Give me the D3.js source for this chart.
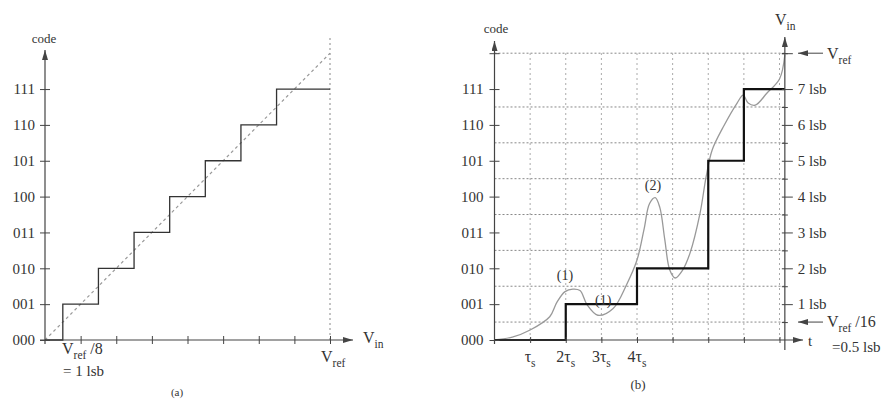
<!DOCTYPE html>
<html>
<head>
<meta charset="utf-8">
<script src="https://cdn.jsdelivr.net/npm/d3@7"></script>
<style>
body { margin: 0; background: #fff; }
svg text { font-family: "Liberation Serif", "DejaVu Serif", serif; fill: #333; font-size: 15px; }
</style>
</head>
<body>
<svg id="chart" width="889" height="401"></svg>
<script>
// ---- data ----
var codeLabels = ['000', '001', '010', '011', '100', '101', '110', '111'];
var codeLevels = [0, 1, 2, 3, 4, 5, 6, 7];
var lsbTicks = [1, 2, 3, 4, 5, 6, 7, 8];

// (a) ideal quantizer: input thresholds (lsb) and output code
var thresholdsA = [0, 0.5, 1.5, 2.5, 3.5, 4.5, 5.5, 6.5, 8];
var codesA = [0, 1, 2, 3, 4, 5, 6, 7, 7];
var idealA = [[0, 0], [8, 8]];

// (b) sampled input, time in tau_s, value in lsb
var sampleTimes = [0, 2, 4, 6, 7, 8.15];
var sampleCodes = [0, 1, 2, 5, 7, 7];
var inputCurve = [
	[0, 0], [0.5, 0.08], [1, 0.28], [1.55, 0.65], [1.75, 1.05], [1.98, 1.35], [2.2, 1.42],
	[2.4, 1.38], [2.6, 0.98], [2.9, 0.69], [3.33, 0.88], [3.71, 1.55], [4.0, 2.23],
	[4.2, 3.1], [4.35, 3.8], [4.51, 3.97], [4.64, 3.7], [4.78, 2.8], [4.92, 1.95],
	[5.07, 1.73], [5.28, 1.95], [5.49, 2.43], [5.77, 3.54], [5.94, 4.55], [6.11, 5.3],
	[6.42, 5.94], [6.81, 6.61], [6.98, 6.83], [7.12, 6.61], [7.32, 6.55], [7.65, 6.89],
	[8.0, 7.28], [8.15, 7.95]
];
var timeTicks = [1, 2, 3, 4, 5, 6, 7, 8];
var timeLabelAt = [1, 2, 3, 4];
var timeLabelCoef = ['', '2', '3', '4'];
var halfLevels = [0.5, 1.5, 2.5, 3.5, 4.5, 5.5, 6.5, 8];
var lsbLevels = [1, 2, 3, 4, 5, 6, 7];
var notes = [
	{ t: 1.98, v: 1.81, text: '(1)' },
	{ t: 3.05, v: 1.12, text: '(1)' },
	{ t: 4.45, v: 4.32, text: '(2)' }
];
var rightAxisAt = 8.15;

var svg = d3.select('#chart');

var defs = svg.append('defs');
defs.append('marker')
	.attr('id', 'arr')
	.attr('viewBox', '0 0 10 6')
	.attr('refX', 10).attr('refY', 3)
	.attr('markerWidth', 10).attr('markerHeight', 6)
	.attr('markerUnits', 'userSpaceOnUse')
	.attr('orient', 'auto')
	.append('path').attr('d', 'M0,0L10,3L0,6Z').attr('fill', '#444');

var y = d3.scaleLinear().domain([0, 8]).range([340, 53.2]);
var xa = d3.scaleLinear().domain([0, 8]).range([45, 330]);
var xb = d3.scaleLinear().domain([0, 8]).range([494.5, 779.5]);

// text with subscript, optional tail after the subscript
function subText(g, x, yy, main, sub, tail, size) {
	size = size || 16;
	var t = g.append('text').attr('x', x).attr('y', yy).style('font-size', size + 'px');
	t.append('tspan').text(main);
	t.append('tspan').attr('dy', 5).style('font-size', (size * 0.72) + 'px').text(sub);
	if (tail)
		t.append('tspan').attr('dy', -5).text(tail);
	return t;
}

function crossTicks(g) {
	g.select('.domain').remove();
	g.selectAll('.tick line').attr('stroke', '#444');
	return g;
}

// ================= panel (a) =================
var ga = svg.append('g');

ga.append('line')
	.attr('x1', xa(8)).attr('x2', xa(8))
	.attr('y1', y(0)).attr('y2', 37)
	.attr('stroke', '#888').attr('stroke-dasharray', '2,3');

ga.append('path')
	.datum(idealA)
	.attr('d', d3.line().x(function(d) { return xa(d[0]); }).y(function(d) { return y(d[1]); }))
	.attr('fill', 'none').attr('stroke', '#999').attr('stroke-width', 1.2)
	.attr('stroke-dasharray', '3,3');

var stepA = d3.line()
	.x(function(d, i) { return xa(d); })
	.y(function(d, i) { return y(codesA[i]); })
	.curve(d3.curveStepAfter);
ga.append('path')
	.datum(thresholdsA)
	.attr('d', stepA)
	.attr('fill', 'none').attr('stroke', '#333').attr('stroke-width', 1.3);

// axes
ga.append('line').attr('x1', 40).attr('x2', 353).attr('y1', y(0)).attr('y2', y(0))
	.attr('stroke', '#444').attr('stroke-width', 1.2).attr('marker-end', 'url(#arr)');
ga.append('line').attr('x1', xa(0)).attr('x2', xa(0)).attr('y1', 344).attr('y2', 50)
	.attr('stroke', '#444').attr('stroke-width', 1.2).attr('marker-end', 'url(#arr)');

var axA = ga.append('g').attr('transform', 'translate(0,' + y(0) + ')')
	.call(d3.axisBottom(xa).tickValues(lsbTicks).tickSize(4).tickFormat(''));
crossTicks(axA).selectAll('.tick line').attr('y1', -4);

var ayA = ga.append('g').attr('transform', 'translate(' + xa(0) + ',0)')
	.call(d3.axisLeft(y).tickValues(codeLevels).tickSize(5).tickPadding(5)
		.tickFormat(function(d) { return codeLabels[d]; }));
crossTicks(ayA).selectAll('.tick line').attr('x1', 5);

ga.append('text').attr('x', 44).attr('y', 43).attr('text-anchor', 'middle')
	.style('font-size', '13px').text('code');
subText(ga, 363, 343, 'V', 'in', null, 16);
subText(ga, 321, 362, 'V', 'ref', null, 16);
subText(ga, 62, 354, 'V', 'ref', ' /8', 16);
ga.append('text').attr('x', 63).attr('y', 376).style('font-size', '15px').text('= 1 lsb');
ga.append('text').attr('x', 177).attr('y', 396).attr('text-anchor', 'middle')
	.style('font-size', '11px').text('(a)');

// ================= panel (b) =================
var gb = svg.append('g');

// grid
gb.selectAll('line.hgrid').data(halfLevels).enter().append('line')
	.attr('class', 'hgrid')
	.attr('x1', xb(0)).attr('x2', xb(rightAxisAt))
	.attr('y1', function(d) { return y(d); }).attr('y2', function(d) { return y(d); })
	.attr('stroke', '#888').attr('stroke-dasharray', '2,2');
gb.selectAll('line.vgrid').data(timeTicks).enter().append('line')
	.attr('class', 'vgrid')
	.attr('x1', function(d) { return xb(d); }).attr('x2', function(d) { return xb(d); })
	.attr('y1', y(0)).attr('y2', y(8))
	.attr('stroke', '#aaa').attr('stroke-dasharray', '2,3');

// input signal
gb.append('path')
	.datum(inputCurve)
	.attr('d', d3.line().x(function(d) { return xb(d[0]); }).y(function(d) { return y(d[1]); })
		.curve(d3.curveCatmullRom.alpha(0.5)))
	.attr('fill', 'none').attr('stroke', '#999').attr('stroke-width', 1.3);

// sampled code
var stepB = d3.line()
	.x(function(d) { return xb(d); })
	.y(function(d, i) { return y(sampleCodes[i]); })
	.curve(d3.curveStepAfter);
gb.append('path')
	.datum(sampleTimes)
	.attr('d', stepB)
	.attr('fill', 'none').attr('stroke', '#111').attr('stroke-width', 2.2);

// axes
gb.append('line').attr('x1', xb(0)).attr('x2', 803).attr('y1', y(0)).attr('y2', y(0))
	.attr('stroke', '#444').attr('stroke-width', 1.2).attr('marker-end', 'url(#arr)');
gb.append('line').attr('x1', xb(0)).attr('x2', xb(0)).attr('y1', 344).attr('y2', 41)
	.attr('stroke', '#444').attr('stroke-width', 1.2).attr('marker-end', 'url(#arr)');
gb.append('line').attr('x1', xb(rightAxisAt)).attr('x2', xb(rightAxisAt)).attr('y1', 350).attr('y2', 37)
	.attr('stroke', '#444').attr('stroke-width', 1.2).attr('marker-end', 'url(#arr)');

var axB = gb.append('g').attr('transform', 'translate(0,' + y(0) + ')')
	.call(d3.axisBottom(xb).tickValues(timeTicks).tickSize(3).tickFormat(''));
crossTicks(axB).selectAll('.tick line').attr('y1', -3);

var ayB = gb.append('g').attr('transform', 'translate(' + xb(0) + ',0)')
	.call(d3.axisLeft(y).tickValues(codeLevels.concat([8])).tickSize(5).tickPadding(6)
		.tickFormat(function(d) { return d < 8 ? codeLabels[d] : ''; }));
crossTicks(ayB).selectAll('.tick line').attr('x1', 5);

var ayR = gb.append('g').attr('transform', 'translate(' + xb(rightAxisAt) + ',0)')
	.call(d3.axisRight(y).tickValues(lsbLevels.concat([8])).tickSize(8).tickPadding(5)
		.tickFormat(function(d) { return d < 8 ? d + ' lsb' : ''; }));
crossTicks(ayR).selectAll('.tick line').attr('x1', -3);
var ayR2 = gb.append('g').attr('transform', 'translate(' + xb(rightAxisAt) + ',0)')
	.call(d3.axisRight(y).tickValues(halfLevels).tickSize(3).tickFormat(''));
crossTicks(ayR2).selectAll('.tick line').attr('x1', -3);

// time labels
timeLabelAt.forEach(function(k, i) {
	subText(gb, xb(k), 362, timeLabelCoef[i] + '\u03c4', 's', null, 16).attr('text-anchor', 'middle');
});

// annotations
gb.selectAll('text.note').data(notes).enter().append('text')
	.attr('class', 'note')
	.attr('x', function(d) { return xb(d.t); })
	.attr('y', function(d) { return y(d.v); })
	.attr('dy', '0.35em')
	.attr('text-anchor', 'middle')
	.style('font-size', '14px')
	.text(function(d) { return d.text; });

gb.append('text').attr('x', 496).attr('y', 33).attr('text-anchor', 'middle')
	.style('font-size', '13px').text('code');
subText(gb, 775, 25, 'V', 'in', null, 16);

// right side pointers
gb.append('line').attr('x1', 823).attr('x2', 798).attr('y1', y(8)).attr('y2', y(8))
	.attr('stroke', '#444').attr('marker-end', 'url(#arr)');
subText(gb, 827, y(8) + 6, 'V', 'ref', null, 16);
gb.append('line').attr('x1', 823).attr('x2', 798).attr('y1', y(0.5)).attr('y2', y(0.5))
	.attr('stroke', '#444').attr('marker-end', 'url(#arr)');
subText(gb, 827, y(0.5) + 5, 'V', 'ref', ' /16', 16);
gb.append('text').attr('x', 832).attr('y', 352).style('font-size', '15px').text('=0.5 lsb');
gb.append('text').attr('x', 808).attr('y', 346).style('font-size', '15px').text('t');
gb.append('text').attr('x', 638).attr('y', 389).attr('text-anchor', 'middle')
	.style('font-size', '13px').text('(b)');
</script>
</body>
</html>
